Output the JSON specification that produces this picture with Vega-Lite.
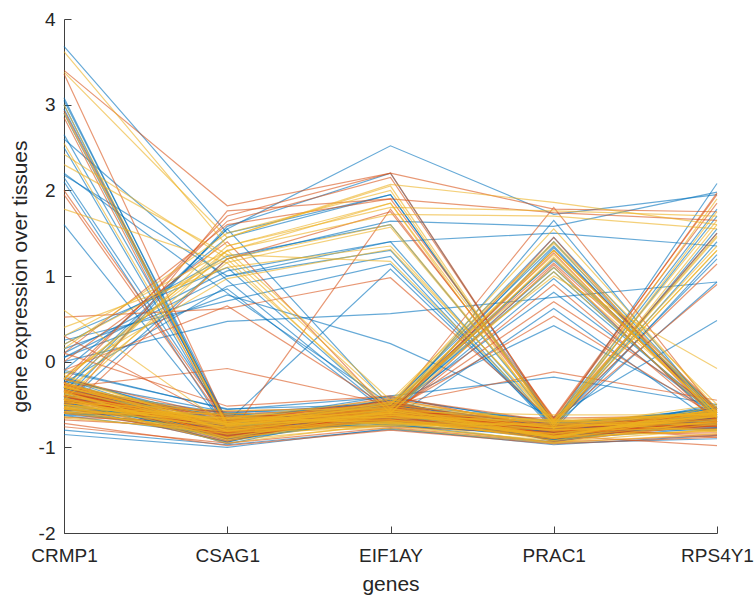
{
"$schema": "https://vega.github.io/schema/vega-lite/v6.json",
"width": 653, "height": 514,
"autosize": {"type": "none"},
"padding": {"left": 64, "top": 19, "right": 39, "bottom": 66},
"background": "white",
"config": {"view": {"stroke": null}, "font": "Liberation Sans"},
"data": {"values": [
{"id":1,"g":1,"CRMP1":3.08,"CSAG1":-0.75,"EIF1AY":-0.58,"PRAC1":-0.8,"RPS4Y1":-0.65},
{"id":2,"g":1,"CRMP1":3.05,"CSAG1":-0.7,"EIF1AY":-0.55,"PRAC1":-0.78,"RPS4Y1":-0.7},
{"id":3,"g":1,"CRMP1":3.0,"CSAG1":-0.8,"EIF1AY":-0.6,"PRAC1":-0.85,"RPS4Y1":-0.62},
{"id":4,"g":1,"CRMP1":2.95,"CSAG1":-0.72,"EIF1AY":-0.5,"PRAC1":-0.75,"RPS4Y1":-0.68},
{"id":5,"g":1,"CRMP1":2.9,"CSAG1":-0.78,"EIF1AY":-0.62,"PRAC1":-0.82,"RPS4Y1":-0.72},
{"id":6,"g":2,"CRMP1":2.93,"CSAG1":-0.74,"EIF1AY":-0.57,"PRAC1":-0.79,"RPS4Y1":-0.6},
{"id":7,"g":2,"CRMP1":2.85,"CSAG1":-0.82,"EIF1AY":-0.65,"PRAC1":-0.88,"RPS4Y1":-0.75},
{"id":8,"g":1,"CRMP1":2.65,"CSAG1":-0.68,"EIF1AY":-0.55,"PRAC1":-0.72,"RPS4Y1":-0.58},
{"id":9,"g":1,"CRMP1":2.5,"CSAG1":-0.76,"EIF1AY":-0.6,"PRAC1":-0.8,"RPS4Y1":-0.66},
{"id":10,"g":3,"CRMP1":2.55,"CSAG1":-0.72,"EIF1AY":-0.52,"PRAC1":-0.77,"RPS4Y1":-0.64},
{"id":11,"g":1,"CRMP1":2.15,"CSAG1":-0.7,"EIF1AY":-0.6,"PRAC1":-0.82,"RPS4Y1":-0.7},
{"id":12,"g":1,"CRMP1":2.1,"CSAG1":-0.8,"EIF1AY":-0.58,"PRAC1":-0.84,"RPS4Y1":-0.63},
{"id":13,"g":2,"CRMP1":1.95,"CSAG1":-0.75,"EIF1AY":-0.55,"PRAC1":-0.76,"RPS4Y1":-0.61},
{"id":14,"g":1,"CRMP1":1.6,"CSAG1":-0.78,"EIF1AY":-0.62,"PRAC1":-0.86,"RPS4Y1":-0.74},
{"id":15,"g":3,"CRMP1":3.0,"CSAG1":-0.77,"EIF1AY":-0.6,"PRAC1":-0.81,"RPS4Y1":-0.67},
{"id":16,"g":2,"CRMP1":2.0,"CSAG1":-0.7,"EIF1AY":-0.5,"PRAC1":-0.74,"RPS4Y1":-0.6},
{"id":17,"g":2,"CRMP1":3.36,"CSAG1":-0.72,"EIF1AY":-0.55,"PRAC1":-0.8,"RPS4Y1":-0.6},
{"id":18,"g":3,"CRMP1":2.9,"CSAG1":-0.74,"EIF1AY":-0.56,"PRAC1":-0.78,"RPS4Y1":-0.64},
{"id":19,"g":1,"CRMP1":3.68,"CSAG1":1.5,"EIF1AY":1.95,"PRAC1":-0.72,"RPS4Y1":1.7},
{"id":20,"g":3,"CRMP1":3.62,"CSAG1":1.35,"EIF1AY":1.85,"PRAC1":-0.68,"RPS4Y1":1.65},
{"id":21,"g":2,"CRMP1":3.4,"CSAG1":1.82,"EIF1AY":2.2,"PRAC1":-0.7,"RPS4Y1":1.5},
{"id":22,"g":3,"CRMP1":3.38,"CSAG1":1.45,"EIF1AY":2.05,"PRAC1":-0.75,"RPS4Y1":1.75},
{"id":23,"g":3,"CRMP1":2.42,"CSAG1":1.2,"EIF1AY":1.6,"PRAC1":-0.7,"RPS4Y1":1.45},
{"id":24,"g":3,"CRMP1":2.3,"CSAG1":1.25,"EIF1AY":1.17,"PRAC1":-0.72,"RPS4Y1":1.3},
{"id":25,"g":1,"CRMP1":2.18,"CSAG1":1.0,"EIF1AY":1.3,"PRAC1":-0.78,"RPS4Y1":1.55},
{"id":26,"g":3,"CRMP1":1.78,"CSAG1":1.15,"EIF1AY":-0.55,"PRAC1":1.3,"RPS4Y1":-0.6},
{"id":27,"g":1,"CRMP1":2.6,"CSAG1":0.95,"EIF1AY":-0.6,"PRAC1":1.2,"RPS4Y1":-0.55},
{"id":28,"g":1,"CRMP1":2.2,"CSAG1":0.8,"EIF1AY":-0.5,"PRAC1":1.35,"RPS4Y1":-0.65},
{"id":29,"g":1,"CRMP1":-0.35,"CSAG1":1.55,"EIF1AY":2.52,"PRAC1":1.72,"RPS4Y1":1.95},
{"id":30,"g":2,"CRMP1":-0.25,"CSAG1":1.7,"EIF1AY":2.2,"PRAC1":1.78,"RPS4Y1":1.75},
{"id":31,"g":3,"CRMP1":-0.4,"CSAG1":1.45,"EIF1AY":2.07,"PRAC1":1.86,"RPS4Y1":1.6},
{"id":32,"g":2,"CRMP1":0.1,"CSAG1":1.6,"EIF1AY":1.9,"PRAC1":1.74,"RPS4Y1":1.65},
{"id":33,"g":3,"CRMP1":-0.3,"CSAG1":1.35,"EIF1AY":1.8,"PRAC1":1.76,"RPS4Y1":1.7},
{"id":34,"g":1,"CRMP1":-0.5,"CSAG1":1.2,"EIF1AY":1.64,"PRAC1":1.58,"RPS4Y1":1.98},
{"id":35,"g":3,"CRMP1":-0.2,"CSAG1":1.3,"EIF1AY":1.72,"PRAC1":1.7,"RPS4Y1":1.55},
{"id":36,"g":1,"CRMP1":0.05,"CSAG1":1.0,"EIF1AY":1.4,"PRAC1":1.5,"RPS4Y1":1.35},
{"id":37,"g":1,"CRMP1":-0.45,"CSAG1":1.58,"EIF1AY":2.2,"PRAC1":-0.72,"RPS4Y1":2.08},
{"id":38,"g":2,"CRMP1":-0.2,"CSAG1":1.64,"EIF1AY":2.15,"PRAC1":-0.68,"RPS4Y1":1.97},
{"id":39,"g":3,"CRMP1":0.15,"CSAG1":1.5,"EIF1AY":2.0,"PRAC1":-0.75,"RPS4Y1":1.9},
{"id":40,"g":1,"CRMP1":-0.1,"CSAG1":1.45,"EIF1AY":1.95,"PRAC1":-0.7,"RPS4Y1":1.78},
{"id":41,"g":2,"CRMP1":-0.55,"CSAG1":1.76,"EIF1AY":1.9,"PRAC1":-0.65,"RPS4Y1":1.95},
{"id":42,"g":3,"CRMP1":0.3,"CSAG1":1.29,"EIF1AY":1.85,"PRAC1":-0.78,"RPS4Y1":1.6},
{"id":43,"g":1,"CRMP1":0.2,"CSAG1":1.23,"EIF1AY":1.6,"PRAC1":-0.73,"RPS4Y1":1.5},
{"id":44,"g":3,"CRMP1":-0.35,"CSAG1":1.16,"EIF1AY":1.57,"PRAC1":-0.7,"RPS4Y1":1.47},
{"id":45,"g":1,"CRMP1":0.1,"CSAG1":1.06,"EIF1AY":1.4,"PRAC1":-0.76,"RPS4Y1":1.4},
{"id":46,"g":2,"CRMP1":-0.6,"CSAG1":1.2,"EIF1AY":1.75,"PRAC1":-0.66,"RPS4Y1":1.85},
{"id":47,"g":3,"CRMP1":0.4,"CSAG1":1.1,"EIF1AY":1.35,"PRAC1":-0.72,"RPS4Y1":1.3},
{"id":48,"g":1,"CRMP1":-0.25,"CSAG1":0.88,"EIF1AY":1.23,"PRAC1":-0.8,"RPS4Y1":1.25},
{"id":49,"g":3,"CRMP1":-0.15,"CSAG1":0.97,"EIF1AY":1.31,"PRAC1":-0.69,"RPS4Y1":1.35},
{"id":50,"g":1,"CRMP1":0.25,"CSAG1":0.71,"EIF1AY":1.14,"PRAC1":-0.74,"RPS4Y1":1.2},
{"id":51,"g":2,"CRMP1":-0.4,"CSAG1":-0.9,"EIF1AY":1.78,"PRAC1":-0.7,"RPS4Y1":1.14},
{"id":52,"g":1,"CRMP1":-0.3,"CSAG1":-0.7,"EIF1AY":1.08,"PRAC1":-0.75,"RPS4Y1":0.93},
{"id":53,"g":1,"CRMP1":-0.3,"CSAG1":1.55,"EIF1AY":-0.52,"PRAC1":1.45,"RPS4Y1":-0.6},
{"id":54,"g":2,"CRMP1":0.0,"CSAG1":1.4,"EIF1AY":-0.6,"PRAC1":1.3,"RPS4Y1":-0.55},
{"id":55,"g":3,"CRMP1":-0.2,"CSAG1":1.25,"EIF1AY":-0.5,"PRAC1":1.25,"RPS4Y1":-0.65},
{"id":56,"g":1,"CRMP1":0.3,"CSAG1":1.1,"EIF1AY":-0.58,"PRAC1":1.1,"RPS4Y1":-0.7},
{"id":57,"g":3,"CRMP1":-0.45,"CSAG1":1.3,"EIF1AY":-0.45,"PRAC1":1.4,"RPS4Y1":-0.5},
{"id":58,"g":1,"CRMP1":0.15,"CSAG1":0.85,"EIF1AY":-0.62,"PRAC1":0.97,"RPS4Y1":-0.62},
{"id":59,"g":2,"CRMP1":-0.1,"CSAG1":0.65,"EIF1AY":-0.55,"PRAC1":1.15,"RPS4Y1":-0.58},
{"id":60,"g":3,"CRMP1":0.2,"CSAG1":1.2,"EIF1AY":-0.6,"PRAC1":1.05,"RPS4Y1":-0.66},
{"id":61,"g":2,"CRMP1":-0.4,"CSAG1":-0.75,"EIF1AY":-0.55,"PRAC1":1.8,"RPS4Y1":-0.6},
{"id":62,"g":1,"CRMP1":-0.3,"CSAG1":-0.8,"EIF1AY":-0.6,"PRAC1":1.65,"RPS4Y1":-0.65},
{"id":63,"g":3,"CRMP1":-0.5,"CSAG1":-0.7,"EIF1AY":-0.5,"PRAC1":1.55,"RPS4Y1":-0.55},
{"id":64,"g":2,"CRMP1":-0.35,"CSAG1":-0.85,"EIF1AY":-0.62,"PRAC1":1.45,"RPS4Y1":-0.7},
{"id":65,"g":3,"CRMP1":-0.25,"CSAG1":-0.72,"EIF1AY":-0.48,"PRAC1":1.38,"RPS4Y1":-0.58},
{"id":66,"g":1,"CRMP1":-0.6,"CSAG1":-0.78,"EIF1AY":-0.65,"PRAC1":1.33,"RPS4Y1":-0.62},
{"id":67,"g":3,"CRMP1":-0.45,"CSAG1":-0.68,"EIF1AY":-0.53,"PRAC1":1.3,"RPS4Y1":-0.6},
{"id":68,"g":2,"CRMP1":-0.3,"CSAG1":-0.82,"EIF1AY":-0.58,"PRAC1":1.27,"RPS4Y1":-0.68},
{"id":69,"g":3,"CRMP1":-0.55,"CSAG1":-0.76,"EIF1AY":-0.6,"PRAC1":1.22,"RPS4Y1":-0.64},
{"id":70,"g":1,"CRMP1":-0.2,"CSAG1":-0.7,"EIF1AY":-0.52,"PRAC1":1.18,"RPS4Y1":-0.57},
{"id":71,"g":2,"CRMP1":-0.4,"CSAG1":-0.88,"EIF1AY":-0.66,"PRAC1":1.13,"RPS4Y1":-0.72},
{"id":72,"g":3,"CRMP1":-0.5,"CSAG1":-0.74,"EIF1AY":-0.5,"PRAC1":1.1,"RPS4Y1":-0.6},
{"id":73,"g":1,"CRMP1":-0.35,"CSAG1":-0.8,"EIF1AY":-0.57,"PRAC1":1.05,"RPS4Y1":-0.66},
{"id":74,"g":3,"CRMP1":-0.3,"CSAG1":-0.66,"EIF1AY":-0.49,"PRAC1":1.0,"RPS4Y1":-0.08},
{"id":75,"g":2,"CRMP1":-0.6,"CSAG1":-0.84,"EIF1AY":-0.63,"PRAC1":0.9,"RPS4Y1":-0.7},
{"id":76,"g":1,"CRMP1":-0.25,"CSAG1":-0.77,"EIF1AY":-0.55,"PRAC1":0.81,"RPS4Y1":-0.62},
{"id":77,"g":2,"CRMP1":-0.45,"CSAG1":-0.7,"EIF1AY":-0.6,"PRAC1":0.7,"RPS4Y1":-0.55},
{"id":78,"g":1,"CRMP1":-0.4,"CSAG1":-0.9,"EIF1AY":-0.68,"PRAC1":0.62,"RPS4Y1":-0.74},
{"id":79,"g":1,"CRMP1":-0.55,"CSAG1":-0.73,"EIF1AY":-0.5,"PRAC1":0.42,"RPS4Y1":-0.6},
{"id":80,"g":2,"CRMP1":-0.35,"CSAG1":-0.79,"EIF1AY":-0.58,"PRAC1":0.53,"RPS4Y1":-0.65},
{"id":81,"g":3,"CRMP1":-0.2,"CSAG1":-0.75,"EIF1AY":-0.56,"PRAC1":1.2,"RPS4Y1":-0.63},
{"id":82,"g":1,"CRMP1":-0.3,"CSAG1":-0.78,"EIF1AY":-0.6,"PRAC1":1.4,"RPS4Y1":-0.67},
{"id":83,"g":2,"CRMP1":-0.3,"CSAG1":-0.08,"EIF1AY":-0.5,"PRAC1":-0.12,"RPS4Y1":-0.45},
{"id":84,"g":1,"CRMP1":-0.45,"CSAG1":-0.7,"EIF1AY":-0.4,"PRAC1":-0.18,"RPS4Y1":-0.5},
{"id":85,"g":1,"CRMP1":0.0,"CSAG1":0.47,"EIF1AY":0.56,"PRAC1":0.75,"RPS4Y1":0.93},
{"id":86,"g":1,"CRMP1":0.05,"CSAG1":0.78,"EIF1AY":0.21,"PRAC1":-0.65,"RPS4Y1":0.48},
{"id":87,"g":2,"CRMP1":0.52,"CSAG1":0.62,"EIF1AY":0.98,"PRAC1":-0.7,"RPS4Y1":0.9},
{"id":88,"g":1,"CRMP1":-0.42,"CSAG1":-0.62,"EIF1AY":-0.71,"PRAC1":-0.78,"RPS4Y1":-0.58},
{"id":89,"g":2,"CRMP1":-0.3,"CSAG1":-0.88,"EIF1AY":-0.48,"PRAC1":-0.9,"RPS4Y1":-0.7},
{"id":90,"g":3,"CRMP1":-0.55,"CSAG1":-0.7,"EIF1AY":-0.6,"PRAC1":-0.68,"RPS4Y1":-0.82},
{"id":91,"g":1,"CRMP1":-0.2,"CSAG1":-0.84,"EIF1AY":-0.66,"PRAC1":-0.86,"RPS4Y1":-0.5},
{"id":92,"g":2,"CRMP1":-0.48,"CSAG1":-0.58,"EIF1AY":-0.52,"PRAC1":-0.8,"RPS4Y1":-0.75},
{"id":93,"g":3,"CRMP1":-0.35,"CSAG1":-0.92,"EIF1AY":-0.74,"PRAC1":-0.72,"RPS4Y1":-0.62},
{"id":94,"g":1,"CRMP1":-0.62,"CSAG1":-0.75,"EIF1AY":-0.45,"PRAC1":-0.92,"RPS4Y1":-0.66},
{"id":95,"g":2,"CRMP1":-0.25,"CSAG1":-0.8,"EIF1AY":-0.63,"PRAC1":-0.76,"RPS4Y1":-0.88},
{"id":96,"g":3,"CRMP1":-0.5,"CSAG1":-0.66,"EIF1AY":-0.7,"PRAC1":-0.88,"RPS4Y1":-0.55},
{"id":97,"g":1,"CRMP1":-0.38,"CSAG1":-0.96,"EIF1AY":-0.57,"PRAC1":-0.82,"RPS4Y1":-0.72},
{"id":98,"g":2,"CRMP1":-0.45,"CSAG1":-0.72,"EIF1AY":-0.42,"PRAC1":-0.7,"RPS4Y1":-0.6},
{"id":99,"g":3,"CRMP1":-0.58,"CSAG1":-0.82,"EIF1AY":-0.78,"PRAC1":-0.95,"RPS4Y1":-0.68},
{"id":100,"g":1,"CRMP1":-0.12,"CSAG1":-0.55,"EIF1AY":-0.5,"PRAC1":-0.84,"RPS4Y1":-0.78},
{"id":101,"g":2,"CRMP1":-0.33,"CSAG1":-0.86,"EIF1AY":-0.61,"PRAC1":-0.66,"RPS4Y1":-0.63},
{"id":102,"g":3,"CRMP1":-0.52,"CSAG1":-0.68,"EIF1AY":-0.68,"PRAC1":-0.9,"RPS4Y1":-0.52},
{"id":103,"g":1,"CRMP1":-0.4,"CSAG1":-0.9,"EIF1AY":-0.55,"PRAC1":-0.78,"RPS4Y1":-0.8},
{"id":104,"g":2,"CRMP1":-0.68,"CSAG1":-0.78,"EIF1AY":-0.64,"PRAC1":-0.86,"RPS4Y1":-0.7},
{"id":105,"g":3,"CRMP1":-0.28,"CSAG1":-0.64,"EIF1AY":-0.72,"PRAC1":-0.74,"RPS4Y1":-0.58},
{"id":106,"g":1,"CRMP1":-0.46,"CSAG1":-0.94,"EIF1AY":-0.49,"PRAC1":-0.93,"RPS4Y1":-0.65},
{"id":107,"g":2,"CRMP1":-0.36,"CSAG1":-0.74,"EIF1AY":-0.59,"PRAC1":-0.8,"RPS4Y1":-0.85},
{"id":108,"g":3,"CRMP1":-0.6,"CSAG1":-0.6,"EIF1AY":-0.66,"PRAC1":-0.7,"RPS4Y1":-0.6},
{"id":109,"g":1,"CRMP1":-0.22,"CSAG1":-0.87,"EIF1AY":-0.53,"PRAC1":-0.88,"RPS4Y1":-0.74},
{"id":110,"g":2,"CRMP1":-0.44,"CSAG1":-0.76,"EIF1AY":-0.76,"PRAC1":-0.84,"RPS4Y1":-0.56},
{"id":111,"g":3,"CRMP1":-0.54,"CSAG1":-0.66,"EIF1AY":-0.44,"PRAC1":-0.76,"RPS4Y1":-0.69},
{"id":112,"g":1,"CRMP1":-0.31,"CSAG1":-0.83,"EIF1AY":-0.62,"PRAC1":-0.91,"RPS4Y1":-0.77},
{"id":113,"g":2,"CRMP1":-0.72,"CSAG1":-0.98,"EIF1AY":-0.8,"PRAC1":-0.96,"RPS4Y1":-0.88},
{"id":114,"g":3,"CRMP1":-0.4,"CSAG1":-0.7,"EIF1AY":-0.58,"PRAC1":-0.62,"RPS4Y1":-0.62},
{"id":115,"g":1,"CRMP1":-0.49,"CSAG1":-0.85,"EIF1AY":-0.68,"PRAC1":-0.87,"RPS4Y1":-0.54},
{"id":116,"g":2,"CRMP1":0.1,"CSAG1":-0.52,"EIF1AY":-0.4,"PRAC1":-0.8,"RPS4Y1":-0.6},
{"id":117,"g":3,"CRMP1":-0.37,"CSAG1":-0.78,"EIF1AY":-0.7,"PRAC1":-0.74,"RPS4Y1":-0.72},
{"id":118,"g":1,"CRMP1":-0.57,"CSAG1":-0.62,"EIF1AY":-0.54,"PRAC1":-0.89,"RPS4Y1":-0.66},
{"id":119,"g":2,"CRMP1":-0.26,"CSAG1":-0.9,"EIF1AY":-0.6,"PRAC1":-0.82,"RPS4Y1":-0.59},
{"id":120,"g":3,"CRMP1":-0.43,"CSAG1":-0.72,"EIF1AY":-0.47,"PRAC1":-0.72,"RPS4Y1":-0.8},
{"id":121,"g":1,"CRMP1":-0.51,"CSAG1":-0.8,"EIF1AY":-0.73,"PRAC1":-0.94,"RPS4Y1":-0.64},
{"id":122,"g":2,"CRMP1":-0.34,"CSAG1":-0.65,"EIF1AY":-0.56,"PRAC1":-0.85,"RPS4Y1":-0.7},
{"id":123,"g":3,"CRMP1":0.6,"CSAG1":-0.75,"EIF1AY":-0.62,"PRAC1":-0.8,"RPS4Y1":-0.57},
{"id":124,"g":1,"CRMP1":-0.47,"CSAG1":-0.88,"EIF1AY":-0.5,"PRAC1":-0.69,"RPS4Y1":-0.75},
{"id":125,"g":2,"CRMP1":-0.65,"CSAG1":-0.7,"EIF1AY":-0.67,"PRAC1":-0.9,"RPS4Y1":-0.62},
{"id":126,"g":3,"CRMP1":-0.16,"CSAG1":-0.81,"EIF1AY":-0.58,"PRAC1":-0.77,"RPS4Y1":-0.5},
{"id":127,"g":1,"CRMP1":-0.39,"CSAG1":-0.6,"EIF1AY":-0.74,"PRAC1":-0.86,"RPS4Y1":-0.68},
{"id":128,"g":2,"CRMP1":-0.53,"CSAG1":-0.93,"EIF1AY":-0.52,"PRAC1":-0.79,"RPS4Y1":-0.78},
{"id":129,"g":3,"CRMP1":-0.29,"CSAG1":-0.73,"EIF1AY":-0.65,"PRAC1":-0.92,"RPS4Y1":-0.6},
{"id":130,"g":1,"CRMP1":-0.41,"CSAG1":-0.84,"EIF1AY":-0.43,"PRAC1":-0.71,"RPS4Y1":-0.65},
{"id":131,"g":2,"CRMP1":-0.59,"CSAG1":-0.67,"EIF1AY":-0.69,"PRAC1":-0.83,"RPS4Y1":-0.83},
{"id":132,"g":3,"CRMP1":-0.32,"CSAG1":-0.79,"EIF1AY":-0.57,"PRAC1":-0.88,"RPS4Y1":-0.55},
{"id":133,"g":1,"CRMP1":-0.85,"CSAG1":-1.0,"EIF1AY":-0.78,"PRAC1":-0.97,"RPS4Y1":-0.86},
{"id":134,"g":2,"CRMP1":-0.44,"CSAG1":-0.63,"EIF1AY":-0.61,"PRAC1":-0.75,"RPS4Y1":-0.71},
{"id":135,"g":3,"CRMP1":-0.36,"CSAG1":-0.89,"EIF1AY":-0.71,"PRAC1":-0.84,"RPS4Y1":-0.61},
{"id":136,"g":1,"CRMP1":-0.56,"CSAG1":-0.74,"EIF1AY":-0.48,"PRAC1":-0.9,"RPS4Y1":-0.69},
{"id":137,"g":2,"CRMP1":-0.24,"CSAG1":-0.82,"EIF1AY":-0.64,"PRAC1":-0.73,"RPS4Y1":-0.76},
{"id":138,"g":3,"CRMP1":-0.48,"CSAG1":-0.57,"EIF1AY":-0.55,"PRAC1":-0.87,"RPS4Y1":-0.58},
{"id":139,"g":1,"CRMP1":-0.63,"CSAG1":-0.86,"EIF1AY":-0.7,"PRAC1":-0.81,"RPS4Y1":-0.66},
{"id":140,"g":2,"CRMP1":-0.3,"CSAG1":-0.69,"EIF1AY":-0.46,"PRAC1":-0.93,"RPS4Y1":-0.73},
{"id":141,"g":3,"CRMP1":-0.42,"CSAG1":-0.91,"EIF1AY":-0.63,"PRAC1":-0.7,"RPS4Y1":-0.6},
{"id":142,"g":1,"CRMP1":-0.5,"CSAG1":-0.77,"EIF1AY":-0.75,"PRAC1":-0.85,"RPS4Y1":-0.52},
{"id":143,"g":2,"CRMP1":0.3,"CSAG1":-0.71,"EIF1AY":-0.54,"PRAC1":-0.78,"RPS4Y1":-0.64},
{"id":144,"g":3,"CRMP1":-0.38,"CSAG1":-0.85,"EIF1AY":-0.6,"PRAC1":-0.89,"RPS4Y1":-0.8},
{"id":145,"g":1,"CRMP1":-0.61,"CSAG1":-0.64,"EIF1AY":-0.66,"PRAC1":-0.74,"RPS4Y1":-0.67},
{"id":146,"g":2,"CRMP1":-0.27,"CSAG1":-0.8,"EIF1AY":-0.51,"PRAC1":-0.86,"RPS4Y1":-0.62},
{"id":147,"g":3,"CRMP1":-0.45,"CSAG1":-0.95,"EIF1AY":-0.72,"PRAC1":-0.8,"RPS4Y1":-0.71},
{"id":148,"g":1,"CRMP1":-0.55,"CSAG1":-0.68,"EIF1AY":-0.58,"PRAC1":-0.92,"RPS4Y1":-0.56},
{"id":149,"g":2,"CRMP1":-0.33,"CSAG1":-0.83,"EIF1AY":-0.44,"PRAC1":-0.76,"RPS4Y1":-0.74},
{"id":150,"g":3,"CRMP1":-0.47,"CSAG1":-0.73,"EIF1AY":-0.68,"PRAC1":-0.84,"RPS4Y1":-0.63},
{"id":151,"g":1,"CRMP1":-0.8,"CSAG1":-0.97,"EIF1AY":-0.79,"PRAC1":-0.95,"RPS4Y1":-0.9},
{"id":152,"g":2,"CRMP1":-0.35,"CSAG1":-0.61,"EIF1AY":-0.56,"PRAC1":-0.72,"RPS4Y1":-0.68},
{"id":153,"g":3,"CRMP1":-0.52,"CSAG1":-0.88,"EIF1AY":-0.62,"PRAC1":-0.88,"RPS4Y1":-0.59},
{"id":154,"g":1,"CRMP1":-0.18,"CSAG1":-0.75,"EIF1AY":-0.7,"PRAC1":-0.79,"RPS4Y1":-0.77},
{"id":155,"g":2,"CRMP1":-0.4,"CSAG1":-0.84,"EIF1AY":-0.53,"PRAC1":-0.86,"RPS4Y1":-0.98},
{"id":156,"g":3,"CRMP1":-0.58,"CSAG1":-0.66,"EIF1AY":-0.65,"PRAC1":-0.68,"RPS4Y1":-0.61},
{"id":157,"g":1,"CRMP1":-0.31,"CSAG1":-0.9,"EIF1AY":-0.59,"PRAC1":-0.91,"RPS4Y1":-0.7},
{"id":158,"g":2,"CRMP1":-0.46,"CSAG1":-0.7,"EIF1AY":-0.47,"PRAC1":-0.82,"RPS4Y1":-0.65},
{"id":159,"g":3,"CRMP1":-0.66,"CSAG1":-0.81,"EIF1AY":-0.74,"PRAC1":-0.94,"RPS4Y1":-0.79},
{"id":160,"g":1,"CRMP1":-0.23,"CSAG1":-0.59,"EIF1AY":-0.55,"PRAC1":-0.75,"RPS4Y1":-0.54},
{"id":161,"g":2,"CRMP1":-0.43,"CSAG1":-0.86,"EIF1AY":-0.67,"PRAC1":-0.85,"RPS4Y1":-0.72},
{"id":162,"g":3,"CRMP1":-0.54,"CSAG1":-0.76,"EIF1AY":-0.5,"PRAC1":-0.71,"RPS4Y1":-0.6},
{"id":163,"g":1,"CRMP1":-0.37,"CSAG1":-0.63,"EIF1AY":-0.72,"PRAC1":-0.89,"RPS4Y1":-0.66},
{"id":164,"g":2,"CRMP1":-0.49,"CSAG1":-0.92,"EIF1AY":-0.58,"PRAC1":-0.8,"RPS4Y1":-0.75},
{"id":165,"g":3,"CRMP1":-0.29,"CSAG1":-0.78,"EIF1AY":-0.63,"PRAC1":-0.77,"RPS4Y1":-0.57},
{"id":166,"g":1,"CRMP1":-0.6,"CSAG1":-0.68,"EIF1AY":-0.45,"PRAC1":-0.9,"RPS4Y1":-0.69},
{"id":167,"g":2,"CRMP1":-0.41,"CSAG1":-0.83,"EIF1AY":-0.69,"PRAC1":-0.83,"RPS4Y1":-0.63},
{"id":168,"g":3,"CRMP1":-0.34,"CSAG1":-0.72,"EIF1AY":-0.54,"PRAC1":-0.87,"RPS4Y1":-0.81},
{"id":169,"g":1,"CRMP1":-0.57,"CSAG1":-0.88,"EIF1AY":-0.66,"PRAC1":-0.73,"RPS4Y1":-0.58},
{"id":170,"g":2,"CRMP1":-0.2,"CSAG1":-0.65,"EIF1AY":-0.6,"PRAC1":-0.84,"RPS4Y1":-0.67},
{"id":171,"g":3,"CRMP1":-0.44,"CSAG1":-0.8,"EIF1AY":-0.76,"PRAC1":-0.92,"RPS4Y1":-0.73},
{"id":172,"g":1,"CRMP1":-0.51,"CSAG1":-0.94,"EIF1AY":-0.52,"PRAC1":-0.78,"RPS4Y1":-0.62},
{"id":173,"g":2,"CRMP1":-0.39,"CSAG1":-0.7,"EIF1AY":-0.64,"PRAC1":-0.86,"RPS4Y1":-0.7},
{"id":174,"g":3,"CRMP1":-0.64,"CSAG1":-0.84,"EIF1AY":-0.7,"PRAC1":-0.95,"RPS4Y1":-0.84},
{"id":175,"g":1,"CRMP1":-0.32,"CSAG1":-0.6,"EIF1AY":-0.49,"PRAC1":-0.76,"RPS4Y1":-0.6},
{"id":176,"g":2,"CRMP1":-0.47,"CSAG1":-0.77,"EIF1AY":-0.62,"PRAC1":-0.81,"RPS4Y1":-0.76},
{"id":177,"g":3,"CRMP1":-0.55,"CSAG1":-0.89,"EIF1AY":-0.57,"PRAC1":-0.88,"RPS4Y1":-0.64},
{"id":178,"g":1,"CRMP1":-0.1,"CSAG1":-0.56,"EIF1AY":-0.41,"PRAC1":-0.74,"RPS4Y1":-0.55},
{"id":179,"g":2,"CRMP1":-0.36,"CSAG1":-0.82,"EIF1AY":-0.68,"PRAC1":-0.9,"RPS4Y1":-0.69},
{"id":180,"g":3,"CRMP1":-0.5,"CSAG1":-0.74,"EIF1AY":-0.55,"PRAC1":-0.69,"RPS4Y1":-0.74},
{"id":181,"g":1,"CRMP1":-0.42,"CSAG1":-0.92,"EIF1AY":-0.66,"PRAC1":-0.83,"RPS4Y1":-0.61},
{"id":182,"g":2,"CRMP1":-0.28,"CSAG1":-0.67,"EIF1AY":-0.6,"PRAC1":-0.86,"RPS4Y1":-0.66},
{"id":183,"g":3,"CRMP1":-0.6,"CSAG1":-0.8,"EIF1AY":-0.71,"PRAC1":-0.79,"RPS4Y1":-0.79},
{"id":184,"g":1,"CRMP1":-0.45,"CSAG1":-0.71,"EIF1AY":-0.5,"PRAC1":-0.91,"RPS4Y1":-0.59},
{"id":185,"g":2,"CRMP1":-0.33,"CSAG1":-0.87,"EIF1AY":-0.64,"PRAC1":-0.75,"RPS4Y1":-0.71},
{"id":186,"g":3,"CRMP1":-0.53,"CSAG1":-0.62,"EIF1AY":-0.73,"PRAC1":-0.85,"RPS4Y1":-0.64},
{"id":187,"g":1,"CRMP1":-0.4,"CSAG1":-0.79,"EIF1AY":-0.56,"PRAC1":-0.8,"RPS4Y1":-0.68},
{"id":188,"g":2,"CRMP1":-0.76,"CSAG1":-0.95,"EIF1AY":-0.77,"PRAC1":-0.94,"RPS4Y1":-0.86},
{"id":189,"g":3,"CRMP1":-0.3,"CSAG1":-0.73,"EIF1AY":-0.61,"PRAC1":-0.87,"RPS4Y1":-0.62},
{"id":190,"g":1,"CRMP1":-0.48,"CSAG1":-0.85,"EIF1AY":-0.52,"PRAC1":-0.82,"RPS4Y1":-0.73},
{"id":191,"g":2,"CRMP1":-0.56,"CSAG1":-0.69,"EIF1AY":-0.67,"PRAC1":-0.77,"RPS4Y1":-0.6},
{"id":192,"g":3,"CRMP1":-0.25,"CSAG1":-0.81,"EIF1AY":-0.59,"PRAC1":-0.89,"RPS4Y1":-0.7}
]},
"transform": [{"fold": ["CRMP1","CSAG1","EIF1AY","PRAC1","RPS4Y1"], "as": ["gene","value"]}],
"encoding": {
  "x": {"field": "gene", "type": "nominal",
        "scale": {"type": "point", "padding": 0, "domain": ["CRMP1","CSAG1","EIF1AY","PRAC1","RPS4Y1"]},
        "axis": {"title": "genes", "labelAngle": 0, "labelFontSize": 19, "titleFontSize": 21, "titleFontWeight": "normal",
                 "tickSize": -7, "labelPadding": 20, "domainColor": "#404040", "tickColor": "#404040",
                 "labelColor": "#262626", "titleColor": "#262626", "grid": false,
                 "titleBaseline": "alphabetic", "titleY": 57}},
  "y": {"field": "value", "type": "quantitative",
        "scale": {"domain": [-2,4], "nice": false, "zero": false},
        "axis": {"title": "gene expression over tissues", "values": [-2,-1,0,1,2,3,4], "labelFontSize": 19,
                 "labelExpr": "toString(datum.value)",
                 "titleFontSize": 21, "titleFontWeight": "normal", "tickSize": -7, "labelPadding": 16,
                 "domainColor": "#404040", "tickColor": "#404040", "labelColor": "#262626", "titleColor": "#262626",
                 "grid": false, "titleBaseline": "alphabetic", "titleX": -38, "titleY": 257, "titleAngle": -90}},
  "color": {"field": "g", "type": "nominal", "scale": {"domain": [1,2,3], "range": ["#0072BD","#D95319","#EDB120"]}, "legend": null},
  "detail": {"field": "id", "type": "nominal"}
},
"layer": [
  {"transform": [{"filter": "datum.g == 1"}], "mark": {"type": "line", "strokeWidth": 1.2, "opacity": 0.6}},
  {"transform": [{"filter": "datum.g == 2"}], "mark": {"type": "line", "strokeWidth": 1.2, "opacity": 0.6}},
  {"transform": [{"filter": "datum.g == 3"}], "mark": {"type": "line", "strokeWidth": 1.2, "opacity": 0.6}}
]
}
